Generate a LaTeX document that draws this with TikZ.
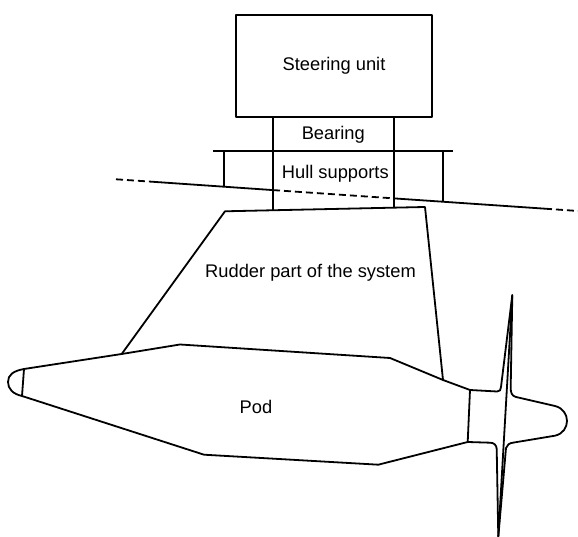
\documentclass[tikz,border=0pt]{standalone}
\usepackage{fontspec}
\setmainfont{Liberation Sans}

\begin{document}
\begin{tikzpicture}[x=10pt,y=10pt,line width=1.8pt,line join=round,
  lbl/.style={font=\fontsize{18.3}{22}\selectfont},
  hullcut/.style={dash pattern=on 7pt off 4pt}]

\useasboundingbox (0,0) rectangle (57.8,53.7);

% steering unit and shaft through the bearing
\node[draw,lbl,minimum width=196pt,minimum height=102pt,inner sep=0pt] (steer) at (33.4,47.1) {Steering unit};
\coordinate (rtl) at (22.5,32.57);
\coordinate (rtr) at (42.5,33.0);
\coordinate (sl) at (27.3,32.67);
\coordinate (sr) at (39.4,32.93);
\draw (steer.south -| sl) -- (sl);
\draw (steer.south -| sr) -- (sr);
\node[lbl,anchor=base] (bear) at (33.33,39.7) {Bearing};

% hull supports
\coordinate (ha) at (21.33,38.63);
\coordinate (hb) at (45.33,38.63);
\draw (ha) -- (hb);
\draw (22.43,38.63) -- (22.43,35.03);
\draw (44.27,38.63) -- (44.27,33.53);
\node[lbl,anchor=base] (hull) at (33.53,35.87) {Hull supports};

% hull line
\coordinate (h0) at (11.6,35.77);
\coordinate (h1) at (15.3,35.52);
\coordinate (h2) at (27.3,34.69);
\coordinate (h3) at (39.4,33.86);
\coordinate (h4) at (54.5,32.83);
\coordinate (h5) at (57.8,32.60);
\draw[hullcut] (h0) -- (h1);
\draw (h1) -- (h2);
\draw[hullcut] (h2) -- (h3);
\draw (h3) -- (h4);
\draw[hullcut] (h4) -- (h5);

% pod
\coordinate (n1) at (2.4,16.8);
\coordinate (n2) at (2.2,14.1);
\coordinate (p1) at (12.17,18.3);
\coordinate (p2) at (18.0,19.25);
\coordinate (p3) at (39.0,17.9);
\coordinate (p4) at (44.3,15.7);
\coordinate (p5) at (47.0,14.7);
\coordinate (b1) at (20.4,8.23);
\coordinate (b2) at (37.83,7.23);
\coordinate (b3) at (46.77,9.5);
\draw (n2) -- (n1) -- (p1) -- (p2) -- (p3) -- (p4) -- (p5) -- (b3) -- (b2) -- (b1) -- (n2);
\draw (n1) .. controls (1.3,16.6) and (0.8,16.2) .. (0.8,15.5) .. controls (0.8,14.8) and (1.3,14.3) .. (n2);
\node[lbl,anchor=base] (pod) at (25.6,12.37) {Pod};

% rudder
\draw (p1) -- (rtl) -- (rtr) -- (p4);
\node[lbl,anchor=base] (rudder) at (31.05,25.97) {Rudder part of the system};

% propeller and spinner
\coordinate (tip) at (51.23,24.2);
\coordinate (bot) at (49.83,0.03);
\draw (p5) -- (49.7,14.55) .. controls (50.0,14.55) and (50.07,14.7) .. (50.1,15.0) -- (tip)
  -- (51.07,15.0) .. controls (51.05,14.4) and (51.2,14.1) .. (51.6,14.0) -- (55.5,13.1)
  .. controls (57.1,12.7) and (57.1,10.5) .. (55.5,10.13) -- (51.4,9.45)
  .. controls (50.9,9.4) and (50.7,9.2) .. (50.6,8.9) -- (bot)
  -- (49.67,8.8) .. controls (49.65,9.2) and (49.4,9.43) .. (49.0,9.43) -- (b3);
\draw (tip) -- (bot);

\end{tikzpicture}
\end{document}
